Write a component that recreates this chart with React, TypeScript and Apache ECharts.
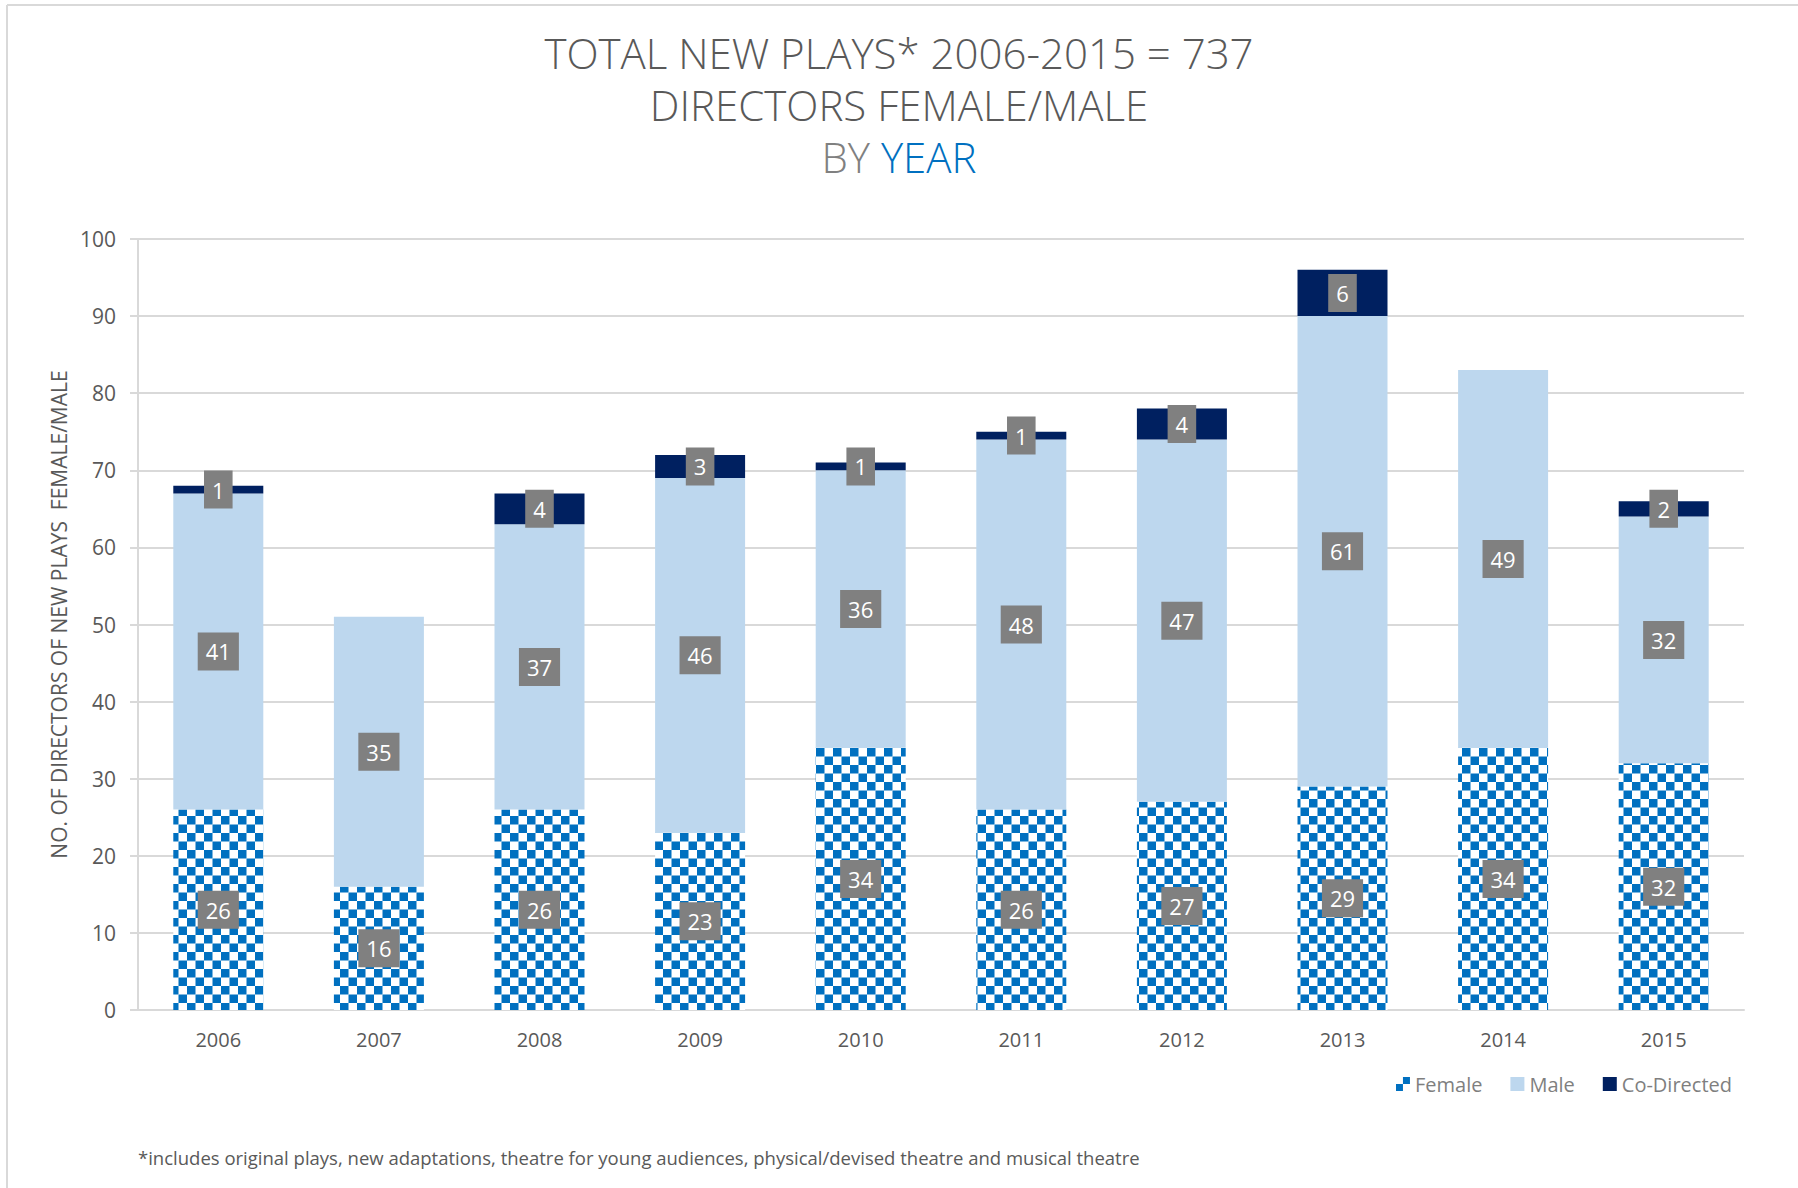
import React, { useEffect, useRef } from 'react';
import * as echarts from 'echarts';

const years = ['2006', '2007', '2008', '2009', '2010', '2011', '2012', '2013', '2014', '2015'];
const female = [26, 16, 26, 23, 34, 26, 27, 29, 34, 32];
const male = [41, 35, 37, 46, 36, 48, 47, 61, 49, 32];
const coDirected = [1, 0, 4, 3, 1, 1, 4, 6, 0, 2];
const seriesNames = ['Female', 'Male', 'Co-Directed'];
const titleLines = ['TOTAL NEW PLAYS* 2006-2015 = 737', 'DIRECTORS FEMALE/MALE'];
const titleBy = 'BY ';
const titleYear = 'YEAR';
const yAxisName = 'NO. OF DIRECTORS OF NEW PLAYS  FEMALE/MALE';
const footnote =
  '*includes original plays, new adaptations, theatre for young audiences, physical/devised theatre and musical theatre';

const BLUE = '#0070C0';
const LIGHT = '#BDD7EE';
const DARK = '#002060';
const GRAY = '#595959';
const FONT = "'Open Sans', 'Noto Sans', sans-serif";

function svgUrl(svg: string) {
  return 'data:image/svg+xml;charset=utf-8,' + encodeURIComponent(svg);
}

const checkerSvg =
  '<svg xmlns="http://www.w3.org/2000/svg" width="17" height="17">' +
  '<rect width="17" height="17" fill="#ffffff"/>' +
  `<rect width="8.5" height="8.5" fill="${BLUE}"/>` +
  `<rect x="8.5" y="8.5" width="8.5" height="8.5" fill="${BLUE}"/>` +
  '</svg>';

const legendSvg =
  '<svg xmlns="http://www.w3.org/2000/svg" width="14" height="14">' +
  '<rect width="14" height="14" fill="#ffffff"/>' +
  `<rect x="7" y="0" width="7" height="7" fill="${BLUE}"/>` +
  `<rect x="0" y="7" width="7" height="7" fill="${BLUE}"/>` +
  '</svg>';

export default function App() {
  const ref = useRef<HTMLDivElement>(null);

  useEffect(() => {
    document.body.style.margin = '0';
    const chart = echarts.init(ref.current!, null, { renderer: 'svg' });

    const pattern: any = {
      image: svgUrl(checkerSvg),
      repeat: 'repeat',
      imageWidth: 17,
      imageHeight: 17,
    };

    const label = {
      show: true,
      position: 'inside',
      color: '#ffffff',
      backgroundColor: '#808080',
      fontFamily: FONT,
      fontSize: 22,
      lineHeight: 24,
      padding: [7, 8, 7, 8],
    };

    const mk = (arr: number[]) =>
      arr.map((v) => (v === 0 ? { value: v, label: { show: false } } : v));

    const titleText = { fontFamily: FONT, fontSize: 42, fontWeight: 300, lineHeight: 52 };

    const option: any = {
      animation: false,
      backgroundColor: '#ffffff',
      title: {
        left: 'center',
        top: 21,
        text: `{a|${titleLines[0]}}\n{a|${titleLines[1]}}\n{b|${titleBy}}{c|${titleYear}}`,
        textStyle: {
          fontWeight: 300,
          rich: {
            a: { ...titleText, color: GRAY },
            b: { ...titleText, color: '#808080' },
            c: { ...titleText, color: BLUE },
          },
        },
      },
      legend: {
        right: 61,
        top: 1069,
        itemWidth: 14,
        itemHeight: 14,
        itemGap: 28,
        textStyle: { fontFamily: FONT, fontSize: 20, color: '#7f7f7f' },
        data: [
          { name: seriesNames[0], icon: 'image://' + svgUrl(legendSvg) },
          { name: seriesNames[1], icon: 'rect' },
          { name: seriesNames[2], icon: 'rect' },
        ],
      },
      grid: { left: 138, right: 54, top: 239, bottom: 178, containLabel: false },
      xAxis: {
        type: 'category',
        data: years,
        axisLine: { show: true, lineStyle: { color: '#d9d9d9', width: 2 } },
        axisTick: { show: false },
        axisLabel: { color: GRAY, fontFamily: FONT, fontSize: 20, margin: 19 },
      },
      yAxis: {
        type: 'value',
        min: 0,
        max: 100,
        interval: 10,
        name: yAxisName,
        nameLocation: 'middle',
        nameGap: 67,
        nameRotate: 90,
        nameTextStyle: {
          color: GRAY,
          fontFamily: FONT,
          fontSize: 21,
          padding: [0, 0, 0, 20],
        },
        axisLine: { show: true, lineStyle: { color: '#d9d9d9', width: 2 } },
        axisTick: { show: true, length: 8, lineStyle: { color: '#d9d9d9', width: 2 } },
        splitLine: { show: true, lineStyle: { color: '#d9d9d9', width: 2 } },
        axisLabel: { color: GRAY, fontFamily: FONT, fontSize: 21, margin: 22 },
      },
      series: [
        {
          name: seriesNames[0],
          type: 'bar',
          stack: 'total',
          barWidth: 90,
          data: mk(female),
          itemStyle: { color: pattern },
          label,
        },
        {
          name: seriesNames[1],
          type: 'bar',
          stack: 'total',
          barWidth: 90,
          data: mk(male),
          itemStyle: { color: LIGHT },
          label,
        },
        {
          name: seriesNames[2],
          type: 'bar',
          stack: 'total',
          barWidth: 90,
          data: mk(coDirected),
          itemStyle: { color: DARK },
          label,
        },
      ],
      graphic: [
        {
          type: 'line',
          shape: { x1: 7, y1: 5, x2: 1798, y2: 5 },
          style: { stroke: '#d9d9d9', lineWidth: 2 },
        },
        {
          type: 'line',
          shape: { x1: 7, y1: 5, x2: 7, y2: 1188 },
          style: { stroke: '#d9d9d9', lineWidth: 2 },
        },
        {
          type: 'text',
          left: 138,
          top: 1148,
          style: { text: footnote, fill: GRAY, fontFamily: FONT, fontSize: 18.5 },
        },
      ],
    };

    chart.setOption(option);
    return () => chart.dispose();
  }, []);

  return <div ref={ref} style={{ width: 1798, height: 1188 }} />;
}
